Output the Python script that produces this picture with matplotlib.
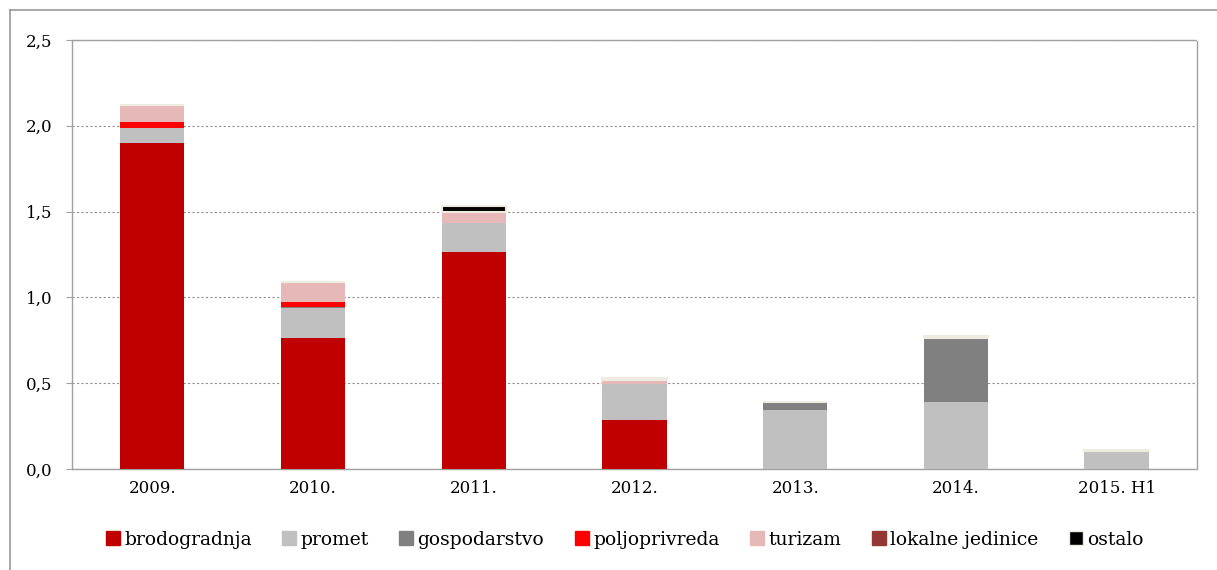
import matplotlib
matplotlib.use("Agg")
import matplotlib.pyplot as plt
from matplotlib.lines import Line2D
import numpy as np

categories = ["2009.", "2010.", "2011.", "2012.", "2013.", "2014.", "2015. H1"]
series_names = ["brodogradnja", "promet", "gospodarstvo", "poljoprivreda",
                "turizam", "lokalne jedinice", "ostalo"]
brodogradnja = [1.90, 0.765, 1.265, 0.286, 0.0, 0.0, 0.0]
promet = [0.09, 0.175, 0.17, 0.21, 0.344, 0.39, 0.105]
gospodarstvo = [0.0, 0.006, 0.0, 0.0, 0.04, 0.373, 0.0]
poljoprivreda = [0.03, 0.025, 0.0, 0.0, 0.0, 0.0, 0.0]
turizam = [0.095, 0.115, 0.064, 0.02, 0.005, 0.0, 0.0]
lokalne = [0.006, 0.006, 0.0, 0.0, 0.0, 0.0, 0.0]
ostalo = [0.0, 0.0, 0.035, 0.012, 0.0, 0.012, 0.008]
yticks = [0.0, 0.5, 1.0, 1.5, 2.0, 2.5]
ytick_labels = ["0,0", "0,5", "1,0", "1,5", "2,0", "2,5"]

colors = ["#C00000", "#C0C0C0", "#808080", "#FF0000", "#E6B9B8", "#953735", "#000000"]
data = [brodogradnja, promet, gospodarstvo, poljoprivreda, turizam, lokalne, ostalo]

plt.rcParams['font.family'] = ['DejaVu Serif']

fig = plt.figure(figsize=(12.17, 5.70), dpi=100)
ax = fig.add_axes([72/1217, 101/570, (1197-72)/1217, (469-40)/570])

x = np.arange(len(categories))
bottom = np.zeros(len(categories))
handles = []
for name, vals, c in zip(series_names, data, colors):
    vals = np.array(vals)
    if name == "ostalo":
        ax.bar(x, vals, 0.4, bottom=bottom, color=c, edgecolor="#EEECE1",
               linewidth=1.5, zorder=3)
    else:
        ax.bar(x, vals, 0.4, bottom=bottom, color=c, edgecolor="none", zorder=3)
    bottom += vals
    handles.append(Line2D([], [], marker="s", linestyle="none", markersize=10,
                          markerfacecolor=c,
                          markeredgecolor="#EEECE1" if name == "ostalo" else c,
                          label=name))

ax.set_xlim(-0.5, len(categories) - 0.5)
ax.set_ylim(0, 2.5)
ax.set_yticks(yticks)
ax.set_yticklabels(ytick_labels, fontsize=12)
ax.set_xticks(x)
ax.set_xticklabels(categories, fontsize=12)
ax.tick_params(axis="x", length=0, pad=8)
ax.tick_params(axis="y", length=4, color="#A0A0A0", pad=10)
ax.yaxis.grid(True, linestyle=(0, (2, 2)), color="#909090", linewidth=0.8, zorder=0)
for s in ["left", "right", "top", "bottom"]:
    ax.spines[s].set_color("#A0A0A0")
    ax.spines[s].set_linestyle((0, (2, 1)))
    ax.spines[s].set_linewidth(1.0)

leg = fig.legend(handles=handles, loc="center", bbox_to_anchor=(0.513, (570-540)/570),
                 ncol=7, frameon=False, fontsize=13.5, handlelength=0.8,
                 handletextpad=0.2, columnspacing=1.6)

# outer chart border
fig.add_artist(Line2D([10/1217, 10/1217], [0, 1 - 10/570], transform=fig.transFigure,
                      color="#999999", linewidth=1.2))
fig.add_artist(Line2D([10/1217, 1.0], [1 - 10/570, 1 - 10/570], transform=fig.transFigure,
                      color="#999999", linewidth=1.2))

fig.savefig("out.png", dpi=100)
